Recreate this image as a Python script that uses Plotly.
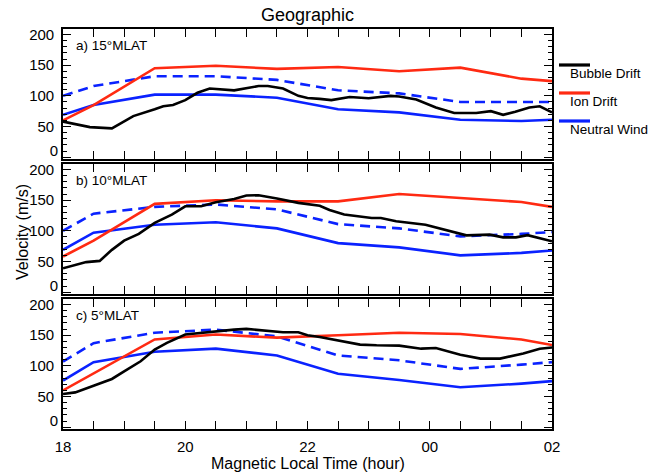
import plotly.graph_objects as go
from plotly.subplots import make_subplots

# ---------------- data ----------------
# model curves are sampled at half-hour bin centres plus the end points
model_hours = [18, 18.5, 19.5, 20.5, 21.5, 22.5, 23.5, 24.5, 25.5, 26]

ion_a = [60, 85, 145, 149, 144, 147, 140, 146, 128, 124]
wind_a = [69, 85, 102, 102, 97, 78, 73, 61, 59, 61]
wind_dash_a = [100, 116, 132, 132, 126, 109, 104, 90, 90, 90]

ion_b = [58, 84, 144, 150, 148, 148, 160, 154, 147, 139]
wind_b = [69, 97, 110, 114, 104, 80, 73, 60, 64, 68]
wind_dash_b = [100, 128, 139, 143, 135, 111, 104, 91, 95, 98]

ion_c = [60, 88, 143, 151, 146, 150, 154, 152, 143, 134]
wind_c = [76, 106, 123, 128, 117, 87, 77, 65, 71, 75]
wind_dash_c = [107, 137, 154, 159, 148, 117, 109, 95, 102, 106]

bubble_hours_a = [18.0, 18.44, 18.8, 19.15, 19.5, 19.64, 19.8, 20.0, 20.2, 20.4, 20.8,
                  21.2, 21.35, 21.6, 21.85, 22.0, 22.2, 22.39, 22.69, 23.0, 23.36,
                  23.5, 23.78, 24.1, 24.4, 24.76, 25.0, 25.2, 25.4, 25.63, 25.8, 26.0]
bubble_a = [58, 49, 47, 67, 78, 83, 85, 93, 105, 112, 109,
            116, 116, 112, 100, 96.5, 95, 93, 98, 96, 100,
            99, 94, 81, 72, 72, 75, 69, 74, 81, 83, 73]

bubble_hours_b = [18.0, 18.38, 18.6, 18.8, 19.0, 19.24, 19.5, 19.78, 20.0, 20.26, 20.5,
                  20.8, 21.0, 21.2, 21.5, 21.85, 22.2, 22.36, 22.6, 23.05, 23.2,
                  23.45, 23.93, 24.6, 24.98, 25.2, 25.41, 25.6, 26.0]
bubble_b = [39, 49, 51, 69, 84, 95, 113, 126.5, 140, 140, 146.6,
            152, 157.6, 158, 152.7, 145.6, 141, 134, 126.5, 121, 121,
            115.5, 110, 92.6, 93.8, 89.4, 89.4, 93, 83]

bubble_hours_c = [18.0, 18.2, 18.5, 18.8, 19.0, 19.27, 19.5, 19.7, 20.0, 20.26, 20.5,
                  20.8, 21.0, 21.3, 21.6, 21.85, 22.0, 22.2, 22.36, 22.53, 22.86,
                  23.13, 23.5, 23.86, 24.1, 24.5, 24.83, 25.15, 25.53, 25.8, 26.0]
bubble_c = [54, 56.7, 67.6, 78.6, 91, 107.4, 126.5, 137.4, 151, 153.7, 156.4,
            159, 160.3, 158, 154.7, 154.7, 150, 147, 144, 140, 134.6,
            133.5, 133, 128, 129, 118, 111.8, 111.8, 120, 128, 130]

panel_labels = ["a) 15°MLAT", "b) 10°MLAT", "c) 5°MLAT"]
x_tickvals = [18, 20, 22, 24, 26]
x_ticktext = ["18", "20", "22", "00", "02"]
y_tickvals = [0, 50, 100, 150, 200]
y_ticktext = ["", "50", "100", "150", "200"]   # the "0" label is drawn on an overlay axis
y_zero_val = [0]
y_zero_text = ["0"]
legend_names = ["Bubble Drift", "Ion Drift", "Neutral Wind"]

# ---------------- style ----------------
BLACK = "#000000"
RED = "#ff2a12"
BLUE = "#0a22ff"
FONT = "Liberation Sans, Arial, Helvetica, sans-serif"
LW = 2.6
YRANGE = [-3, 209]

fig = make_subplots(rows=3, cols=1, shared_xaxes=False)

panels = [
    (bubble_hours_a, bubble_a, ion_a, wind_a, wind_dash_a),
    (bubble_hours_b, bubble_b, ion_b, wind_b, wind_dash_b),
    (bubble_hours_c, bubble_c, ion_c, wind_c, wind_dash_c),
]

for i, (bh, bv, ion, wind, wdash) in enumerate(panels, start=1):
    fig.add_trace(go.Scatter(x=model_hours, y=wdash, mode="lines", name="Neutral Wind (dashed)",
                             line=dict(color=BLUE, width=LW, dash="10px,6px"), showlegend=False),
                  row=i, col=1)
    fig.add_trace(go.Scatter(x=model_hours, y=wind, mode="lines", name=legend_names[2],
                             line=dict(color=BLUE, width=LW), showlegend=False), row=i, col=1)
    fig.add_trace(go.Scatter(x=model_hours, y=ion, mode="lines", name=legend_names[1],
                             line=dict(color=RED, width=LW), showlegend=False), row=i, col=1)
    fig.add_trace(go.Scatter(x=bh, y=bv, mode="lines", name=legend_names[0],
                             line=dict(color=BLACK, width=LW), showlegend=False), row=i, col=1)

domains = [[0.675, 1.0], [0.3375, 0.6625], [0.0, 0.325]]
for i in range(1, 4):
    sfx = "" if i == 1 else str(i)
    xa = f"xaxis{sfx}"
    ya = f"yaxis{sfx}"
    fig.layout[xa].update(
        range=[18, 26], tickmode="array", tickvals=x_tickvals, ticktext=x_ticktext,
        showticklabels=(i == 3), ticks="inside", ticklen=8, tickwidth=1.2, tickcolor=BLACK,
        showline=True, linecolor=BLACK, linewidth=1.6, mirror="allticks",
        showgrid=False, zeroline=False, ticklabelstandoff=3,
        minor=dict(tickmode="linear", tick0=18, dtick=0.5, ticks="inside", ticklen=4,
                   tickwidth=1.2, tickcolor=BLACK, showgrid=False),
        tickfont=dict(size=15, color=BLACK, family=FONT),
    )
    fig.layout[ya].update(
        domain=domains[i - 1], range=YRANGE, tickmode="array", tickvals=y_tickvals,
        ticktext=y_ticktext,
        ticks="inside", ticklen=8, tickwidth=1.2, tickcolor=BLACK,
        showline=True, linecolor=BLACK, linewidth=1.6, mirror="allticks",
        showgrid=False, zeroline=False, ticklabelstandoff=4,
        minor=dict(tickmode="linear", tick0=0, dtick=10, ticks="inside", ticklen=4,
                   tickwidth=1.2, tickcolor=BLACK, showgrid=False),
        tickfont=dict(size=15, color=BLACK, family=FONT),
    )
    # overlay axis carrying the "0" label, nudged up so it clears the panel below
    oy = 3 + i
    fig.layout[f"yaxis{oy}"] = dict(
        overlaying=f"y{sfx}", anchor=f"x{sfx}", side="left", domain=domains[i - 1],
        range=YRANGE, tickmode="array", tickvals=y_zero_val, ticktext=y_zero_text,
        ticks="", showline=False, showgrid=False, zeroline=False,
        ticklabelstandoff=4, ticklabelshift=-6,
        tickfont=dict(size=15, color=BLACK, family=FONT),
    )
    fig.add_trace(go.Scatter(x=[], y=[], mode="lines", showlegend=False, hoverinfo="skip",
                             xaxis=f"x{sfx}", yaxis=f"y{oy}"))
    fig.add_annotation(text=panel_labels[i - 1], xref=f"x{sfx} domain",
                       yref=f"y{sfx} domain", x=0.022, y=0.87,
                       xanchor="left", yanchor="middle", showarrow=False,
                       font=dict(size=13.5, color=BLACK, family=FONT))

# legend drawn to the right of the panels (line sample above each name)
leg_colors = [BLACK, RED, BLUE]
leg_line_y = [65, 93, 121]
for name, col, ly in zip(legend_names, leg_colors, leg_line_y):
    yp = (429 - ly) / 400
    fig.add_shape(type="line", xref="paper", yref="paper",
                  x0=(559 - 63) / 489, x1=(590 - 63) / 489, y0=yp, y1=yp,
                  line=dict(color=col, width=3.2))
    fig.add_annotation(text=name, xref="paper", yref="paper",
                       x=(567.5 - 63) / 489, y=(429 - (ly + 8)) / 400,
                       xanchor="left", yanchor="middle", showarrow=False,
                       font=dict(size=13.5, color=BLACK, family=FONT))

# axis titles
fig.add_annotation(text="Velocity (m/s)", xref="paper", yref="paper",
                   x=(22 - 63) / 489, y=(429 - 232) / 400, textangle=-90,
                   xanchor="center", yanchor="middle", showarrow=False,
                   font=dict(size=16, color=BLACK, family=FONT))
fig.add_annotation(text="Magnetic Local Time (hour)", xref="paper", yref="paper",
                   x=0.5, y=(429 - 464) / 400, xanchor="center", yanchor="middle",
                   showarrow=False, font=dict(size=16, color=BLACK, family=FONT))

fig.update_layout(
    width=648, height=476,
    margin=dict(l=63, r=96, t=29, b=47),
    paper_bgcolor="white", plot_bgcolor="white",
    showlegend=False,
    title=dict(text="Geographic", x=0.5, xref="paper", y=1 - 15 / 476, yref="container",
               xanchor="center", yanchor="middle",
               font=dict(size=18, color=BLACK, family=FONT)),
    font=dict(family=FONT, color=BLACK),
)

fig.write_html("out.html", config={"displayModeBar": False},
               post_script="document.body.style.margin='0px';document.body.style.overflow='hidden';")
